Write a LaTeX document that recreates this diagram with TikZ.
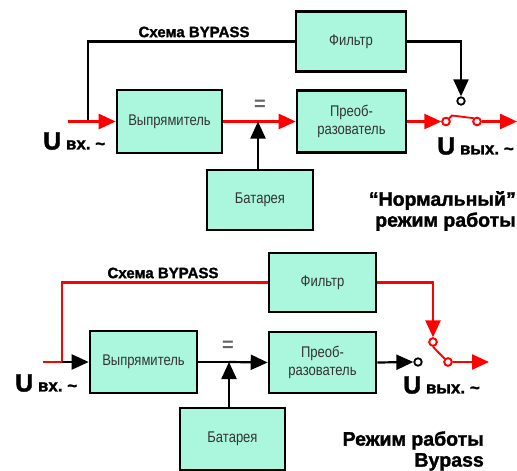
\documentclass[tikz,border=0pt]{standalone}
\usepackage{fontspec}
\setmainfont{Liberation Sans}
\newfontfamily\boxfont[FakeStretch=0.84]{Liberation Sans}
\newfontfamily\heavyfont[FakeBold=1.6]{Liberation Sans Bold}
\usetikzlibrary{arrows.meta}
\definecolor{mint}{RGB}{170,247,222}
\definecolor{rd}{RGB}{255,0,0}
\newcommand{\ulabel}[1]{\heavyfont\fontsize{25}{25}\selectfont U\fontsize{17}{17}\selectfont\ #1\ \textasciitilde}
\tikzset{
  blk/.style={draw=black, line width=2.6pt, fill=mint, inner sep=0pt, minimum height=60pt,
    font=\boxfont\fontsize{15.5}{18}\selectfont, align=center, text=black!80},
  wire/.style={line width=2.2pt},
  rwire/.style={line width=2.4pt, draw=rd},
  tip/.style={-{Triangle[length=17pt,width=15pt]}},
  cont/.style={circle, draw, line width=1.8pt, fill=white, minimum size=7.5pt, inner sep=0pt},
  lbl/.style={font=\heavyfont\fontsize{15}{16}\selectfont, inner sep=0pt},
  mode/.style={font=\heavyfont\fontsize{19.5}{21}\selectfont, align=right, inner sep=0pt},
  ulab/.style={inner sep=0pt, anchor=west},
  eq/.style={font=\bfseries\fontsize{20}{20}\selectfont, inner sep=0pt, text=black!60}
}
\begin{document}
\begin{tikzpicture}[x=1pt,y=-1pt]
\useasboundingbox (0,0) rectangle (517,471);
% ---------- top: normal mode ----------
\node[blk, minimum width=105pt, minimum height=63pt] (r1) at (169.5,121.5) {Выпрямитель};
\node[blk, minimum width=110pt, minimum height=60pt] (f1) at (351,41.5) {Фильтр};
\node[blk, minimum width=109pt, minimum height=62pt] (c1) at (351.5,121.5) {Преоб-\\разователь};
\node[blk, minimum width=106pt, minimum height=60pt] (b1) at (260,200) {Батарея};
\coordinate (in1) at (68,121.5);
\coordinate (bp1) at (88,121.5);
\coordinate (j1) at (258,121.5);
\node[cont, draw=rd] (k1a) at (446,121.5) {};
\node[cont, draw=rd] (k1b) at (477,121.5) {};
\node[cont, draw=black] (k1c) at (461,101) {};
\coordinate (out1) at (517,121.5);
\node[lbl] (t1) at (194,32) {Схема BYPASS};
\node[eq] (e1) at (260,105) {=};
\draw[wire] (bp1) -- (88,41.5) -- (f1.west);
\draw[wire, tip] (f1.east) -- (k1c |- f1.east) -- (k1c.north);
\draw[rwire, tip] (in1) -- (r1.west);
\draw[rwire] (r1.east) -- (j1);
\draw[rwire, tip] (j1) -- (c1.west);
\draw[wire, tip] (b1.north -| j1) -- (j1);
\draw[rwire, tip] (c1.east) -- (k1a.west);
\draw[rwire, line width=1.8pt] (k1a.north east) -- (452,115.5) -- (k1b.north west);
\draw[rwire, tip] (k1b.east) -- (out1);
\node[cont, draw=rd] at (k1a) {};
\node[cont, draw=rd] at (k1b) {};
\node[ulab] (u1) at (43,141) {\ulabel{вх.}};
\node[ulab] (u2) at (437,146) {\ulabel{вых.}};
\node[mode, anchor=east] (m1) at (516,211) {“Нормальный”\\режим работы};
% ---------- bottom: bypass mode ----------
\node[blk, minimum width=107pt, minimum height=62pt] (r2) at (143.5,362) {Выпрямитель};
\node[blk, minimum width=107pt, minimum height=59pt] (f2) at (322.5,282.5) {Фильтр};
\node[blk, minimum width=107pt, minimum height=61pt] (c2) at (322.5,362.5) {Преоб-\\разователь};
\node[blk, minimum width=105pt, minimum height=62pt] (b2) at (232.5,439) {Батарея};
\coordinate (in2) at (43,362);
\coordinate (bp2) at (62,362);
\coordinate (j2) at (229,362);
\node[cont, draw=black] (k2a) at (418,362) {};
\node[cont, draw=rd] (k2b) at (448,362) {};
\node[cont, draw=rd] (k2c) at (433,342) {};
\coordinate (out2) at (489,362);
\node[lbl] (t2) at (163,273) {Схема BYPASS};
\node[eq] (e2) at (228,346) {=};
\draw[rwire] (in2) -- (bp2) -- (62,282.5) -- (f2.west);
\draw[rwire, tip] (f2.east) -- (k2c |- f2.east) -- (k2c.north);
\draw[wire, tip] (bp2) -- (r2.west);
\draw[wire] (r2.east) -- (j2);
\draw[wire, tip] (j2) -- (c2.west);
\draw[wire, tip] (b2.north -| j2) -- (j2);
\draw[wire, tip] (c2.east) -- (k2a.west);
\draw[rwire, line width=1.8pt] (k2c.south) -- (437,351) -- (k2b.north west);
\draw[rwire, tip] (k2b.east) -- (out2);
\node[cont, draw=rd] at (k2b) {};
\node[cont, draw=rd] at (k2c) {};
\node[ulab] (u3) at (15,383) {\ulabel{вх.}};
\node[ulab] (u4) at (403,385) {\ulabel{вых.}};
\node[mode, anchor=east] (m2) at (484,451) {Режим работы\\Bypass};
\end{tikzpicture}
\end{document}
